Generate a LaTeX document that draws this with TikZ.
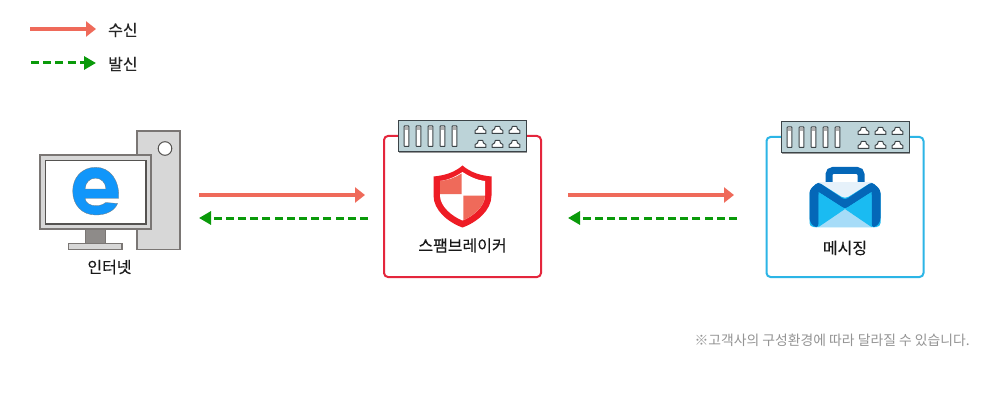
\documentclass[tikz,border=0pt]{standalone}
\usepackage{fontspec}
\setmainfont{Noto Sans CJK KR}
\usetikzlibrary{arrows.meta}
\definecolor{inc}{HTML}{EF6A5A}
\definecolor{outg}{HTML}{0A9A0A}
\definecolor{frameg}{HTML}{7A7674}
\definecolor{panel}{HTML}{D7D7D7}
\definecolor{rackc}{HTML}{BCD3D8}
\definecolor{rackl}{HTML}{3C4448}
\definecolor{redb}{HTML}{E4263C}
\definecolor{blueb}{HTML}{2CB5E6}
\definecolor{shield}{HTML}{EE1C25}
\definecolor{ie}{HTML}{1196FA}
\definecolor{mdark}{HTML}{0467B8}
\definecolor{mmid}{HTML}{1ABBF2}
\definecolor{mlight}{HTML}{A6DCF8}
\definecolor{mpale}{HTML}{E6F1FA}
\tikzset{
  x=1pt,y=-1pt,
  inarrow/.style={draw=inc,line width=4pt,-{Triangle[length=10pt,width=15pt,fill=inc]}},
  outarrow/.style={draw=outg,line width=3pt,dash pattern=on 8pt off 4.2pt,-{Triangle[length=12pt,width=13pt,fill=outg]}},
  lbl/.style={inner sep=0pt,font=\fontsize{16}{18}\selectfont\addfontfeature{FakeBold=0.15},text=black!90},
  leg/.style={inner sep=0pt,font=\fontsize{16}{18}\selectfont\addfontfeature{FakeBold=0.08},text=black!85},
  pc/.style={draw=frameg,line width=1.5pt,fill=panel},
  racksl/.style={draw=rackl,line width=1pt,fill=white,rounded corners=.6pt},
}
% rack device, (#1,#2) = top-left corner
\newcommand{\rackbox}[2]{%
  \begin{scope}[shift={(#1,#2)}]
  \fill[black!40] (0,1) rectangle (128,32.5);
  \draw[draw=rackl,line width=1pt,fill=rackc] (0,0) rectangle (128,31);
  \foreach \sx in {8,20,32,44,56}{\draw[racksl] (\sx-2.4,5) rectangle (\sx+2.4,25.5);
     \fill[black!30] (\sx-1.9,5.5) rectangle (\sx+1.9,9.5);}
  \foreach \sx in {82,99,116}\foreach \sy in {9,23}{
    \draw[draw=rackl,line width=1pt,fill=white,line join=round]
      (\sx-5.3,\sy+3.5) -- (\sx-5.3,\sy+.5) -- (\sx-3,\sy-1) -- (\sx-2.2,\sy-3.5) -- (\sx+2.2,\sy-3.5) -- (\sx+3,\sy-1) -- (\sx+5.3,\sy+.5) -- (\sx+5.3,\sy+3.5) -- cycle;}
  \end{scope}}
\begin{document}
\begin{tikzpicture}
\useasboundingbox (0,0) rectangle (1000,406);
\fill[white] (0,0) rectangle (1000,406);
% legend
\coordinate (l1a) at (30,29); \coordinate (l1b) at (96,29);
\coordinate (l2a) at (31,63); \coordinate (l2b) at (96,63);
\draw[inarrow] (l1a) -- (l1b);
\draw[outarrow] (l2a) -- (l2b);
\node[leg,anchor=west] (t1) at (108,30) {수신};
\node[leg,anchor=west] (t2) at (108,64) {발신};
% computer
\draw[pc] (137,131) rectangle (180,249.5);
\draw[draw=frameg!70!black,line width=1pt,fill=white] (165,148.5) circle (6.8);
\fill[draw=frameg,line width=1pt,fill=frameg!85] (85.5,229) rectangle (105.5,244);
\draw[draw=frameg,line width=1.2pt,fill=panel] (68.5,243.5) rectangle (122,249.5);
\draw[pc] (40,155) rectangle (151,229);
\draw[draw=frameg!70!black,line width=1.4pt,fill=white] (45.5,160.5) rectangle (146,224);
% browser logo
\path[fill=ie,draw=rackl!70,line width=.3pt,even odd rule]
  (118.7,198.3) .. controls (119.6,180) and (110,167.3) .. (95.7,167.3)
  .. controls (82,167.3) and (72.7,177.5) .. (72.7,191)
  .. controls (72.7,205) and (82,215) .. (95.7,215)
  .. controls (106,215) and (114.5,211) .. (117.6,203.5)
  -- (105.5,202.5)
  .. controls (103.5,204.5) and (100,205.7) .. (96,205.7)
  .. controls (90,205.7) and (85.5,203) .. (85,198.3) -- cycle
  (85,189) .. controls (85.5,182) and (90,178.2) .. (95.5,178.2)
  .. controls (101,178.2) and (105.5,182) .. (106,189) -- cycle;
\node[lbl] (pclabel) at (109.5,267) {인터넷};
% spam box
\node[draw=redb,line width=2pt,rounded corners=4pt,minimum width=157pt,minimum height=141pt,inner sep=0pt] (spam) at (462.5,206.5) {};
\rackbox{398.5}{121}
\begin{scope}[shift={(462.5,165.5)}]
  \fill[shield] (0,0) .. controls (8,7) and (18,10) .. (29,11) -- (29,30) .. controls (29,45) and (14,57) .. (0,62) .. controls (-14,57) and (-29,45) .. (-29,30) -- (-29,11) .. controls (-18,10) and (-8,7) .. (0,0) -- cycle;
  \fill[white] (0,6.5) .. controls (7,11) and (14,14.5) .. (22.5,15.5) -- (22.5,30) .. controls (22.5,41) and (10,51) .. (0,55) .. controls (-10,51) and (-22.5,41) .. (-22.5,30) -- (-22.5,15.5) .. controls (-14,14.5) and (-7,11) .. (0,6.5) -- cycle;
  \fill[inc] (-.8,8) .. controls (-7,12) and (-14,14.5) .. (-22.5,15.5) -- (-22.5,28.5) -- (-.8,28.5) -- cycle;
  \fill[inc] (.8,30) -- (22.5,30) .. controls (22.5,41) and (10,51) .. (.8,54.7) -- cycle;
\end{scope}
\node[lbl] (spamlabel) at (462.5,245.5) {스팸브레이커};
% messaging box
\node[draw=blueb,line width=2pt,rounded corners=4pt,minimum width=157pt,minimum height=140pt,inner sep=0pt] (msg) at (845,207) {};
\rackbox{781.5}{122}
\begin{scope}[shift={(845,0)}]
  \draw[draw=mdark,line width=7pt,rounded corners=4pt] (-16,186) -- (-16,170.5) -- (16,170.5) -- (16,186);
  \fill[mpale] (-27,182) -- (27,182) -- (27,190) -- (0,206) -- (-27,190) -- cycle;
  \fill[mmid,rounded corners=4pt] (-35.5,190) -- (-27,182) -- (0,199) -- (27,182) -- (35.5,190) -- (35.5,227) -- (-35.5,227) -- cycle;
  \fill[mlight] (-27,227) -- (0,208.5) -- (27,227) -- cycle;
  \fill[mdark,rounded corners=3pt] (-27,182) -- (-35.5,190) -- (-35.5,221) -- (-31,227) -- (-26.5,227) -- (-26.5,192) -- (0,209) -- (26.5,192) -- (26.5,227) -- (31,227) -- (35.5,221) -- (35.5,190) -- (27,182) -- (0,200) -- cycle;
  \fill[mmid] (-26.5,192) -- (0,209) -- (-26.5,227) -- cycle;
  \fill[mmid] (26.5,192) -- (0,209) -- (26.5,227) -- cycle;
\end{scope}
\node[lbl] (msglabel) at (845,248) {메시징};
% connectors
\coordinate (a1) at (199,195); \coordinate (a2) at (365,195);
\coordinate (b1) at (368,218); \coordinate (b2) at (199,218);
\coordinate (c1) at (568,195); \coordinate (c2) at (734,195);
\coordinate (d1) at (737,218); \coordinate (d2) at (568,218);
\draw[inarrow] (a1) -- (a2);
\draw[outarrow] (b1) -- (b2);
\draw[inarrow] (c1) -- (c2);
\draw[outarrow] (d1) -- (d2);
\node[inner sep=0pt,anchor=east,text=black!42,font=\fontsize{13.85}{15}\selectfont] (note) at (970,340) {※고객사의 구성환경에 따라 달라질 수 있습니다.};
\end{tikzpicture}
\end{document}
